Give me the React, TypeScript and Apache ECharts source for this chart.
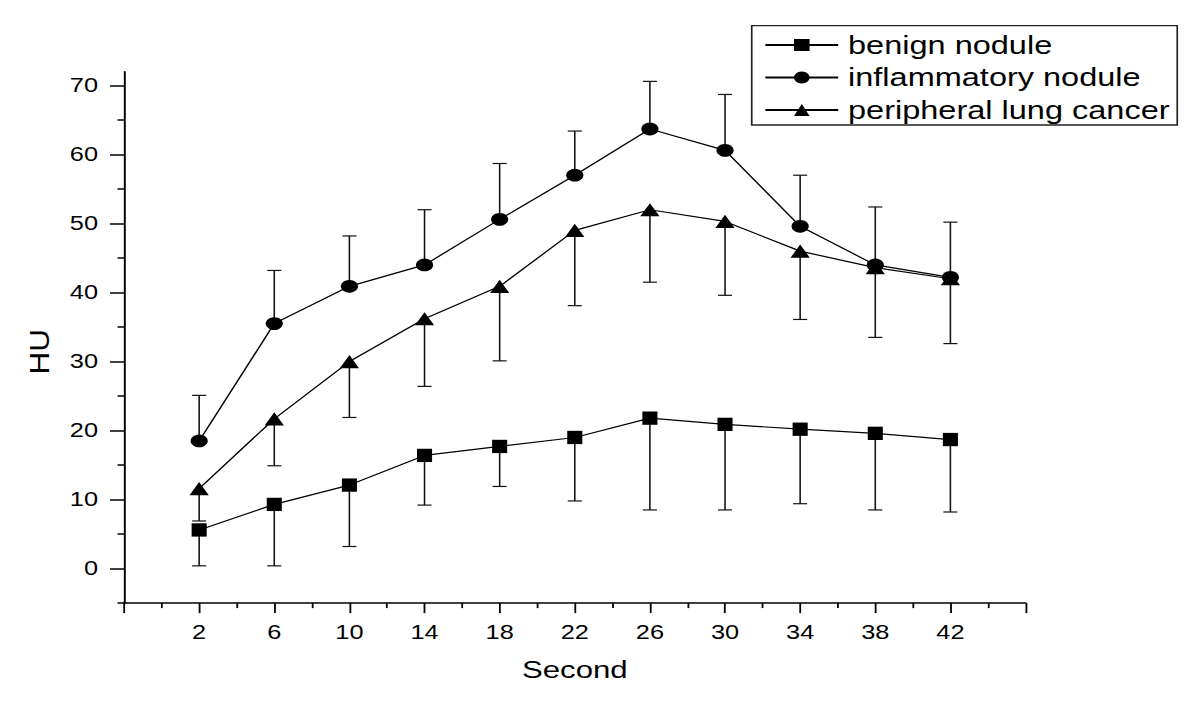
import React, { useEffect, useRef } from "react";
import * as echarts from "echarts";

// ---- data ----
const seconds = [2, 6, 10, 14, 18, 22, 26, 30, 34, 38, 42];
const seriesNames = ["benign nodule", "inflammatory nodule", "peripheral lung cancer"];

const benignMean = [5.6, 9.3, 12.1, 16.4, 17.7, 19.0, 21.8, 20.9, 20.2, 19.6, 18.7];
const benignLow = [0.4, 0.4, 3.2, 9.2, 11.9, 9.8, 8.5, 8.5, 9.4, 8.5, 8.2];

const inflamMean = [18.5, 35.5, 40.9, 44.0, 50.6, 57.0, 63.7, 60.6, 49.6, 44.0, 42.2];
const inflamHigh = [25.1, 43.2, 48.2, 52.0, 58.7, 63.4, 70.6, 68.7, 57.0, 52.4, 50.2];

const periphMean = [11.6, 21.7, 30.0, 36.2, 40.9, 49.0, 52.0, 50.3, 46.0, 43.6, 42.0];
const periphLow = [6.9, 14.9, 21.9, 26.4, 30.1, 38.1, 41.5, 39.6, 36.1, 33.5, 32.6];

const xMajorTicks = [-2, 2, 6, 10, 14, 18, 22, 26, 30, 34, 38, 42, 46];
const xLabelValues = [2, 6, 10, 14, 18, 22, 26, 30, 34, 38, 42];
const xMinorTicks = [0, 4, 8, 12, 16, 20, 24, 28, 32, 36, 40, 44];
const yMajorTicks = [0, 10, 20, 30, 40, 50, 60, 70];
const yMinorTicks = [-5, 5, 15, 25, 35, 45, 55, 65];

// ---- layout (the reference is stretched horizontally) ----
const W = 923;
const H = 715;
const SX = 1200 / W;
const FONT = '"Liberation Sans", Arial, Helvetica, sans-serif';
const INK = "#000";

function errorSeries(name: string, means: number[], ends: number[]) {
  return {
    type: "custom",
    name,
    xAxisIndex: 0,
    yAxisIndex: 0,
    silent: true,
    z: 1,
    encode: { x: 0, y: [1, 2] },
    data: seconds.map((s, i) => [s, means[i], ends[i]]),
    renderItem: (_params: any, api: any) => {
      const p0 = api.coord([api.value(0), api.value(1)]);
      const p1 = api.coord([api.value(0), api.value(2)]);
      const st = { stroke: "#111", lineWidth: 1.2 };
      return {
        type: "group",
        children: [
          { type: "line", shape: { x1: p0[0], y1: p0[1], x2: p1[0], y2: p1[1] }, style: st },
          { type: "line", shape: { x1: p1[0] - 5.4, y1: p1[1], x2: p1[0] + 5.4, y2: p1[1] }, style: st },
        ],
      };
    },
  };
}

function lineSeries(name: string, means: number[], symbol: string, size: number[]) {
  return {
    type: "line",
    name,
    xAxisIndex: 0,
    yAxisIndex: 0,
    z: 3,
    symbol,
    symbolSize: size,
    showAllSymbol: true,
    data: seconds.map((s, i) => [s, means[i]]),
    itemStyle: { color: INK, borderWidth: 0 },
    lineStyle: { color: INK, width: 1.2 },
  };
}

export default function App() {
  const ref = useRef<HTMLDivElement>(null);

  useEffect(() => {
    if (!ref.current) return;
    const chart = echarts.init(ref.current, null, { renderer: "svg", width: W, height: H });
    const axisLineStyle = { color: INK, width: 1.5 };
    const option: any = {
      animation: false,
      backgroundColor: "#fff",
      grid: { left: 95.4, right: W - 788.8, top: 71.7, bottom: 111.9, containLabel: false },
      legend: {
        orient: "vertical",
        left: 587.7,
        top: 32.5,
        padding: 0,
        itemWidth: 56,
        itemHeight: 15,
        itemGap: 7.5,
        data: seriesNames,
        textStyle: { fontFamily: FONT, fontSize: 25, lineHeight: 25, color: INK, padding: [0, 0, 0, 2.6] },
      },
      xAxis: [
        {
          type: "value",
          min: -2,
          max: 46,
          position: "bottom",
          axisLine: { show: true, onZero: false, lineStyle: axisLineStyle },
          axisTick: { show: true, customValues: xMajorTicks, length: 10, lineStyle: { color: INK, width: 1.4 } },
          axisLabel: { customValues: xLabelValues, fontFamily: FONT, fontSize: 19.5, color: INK, margin: 19 },
          splitLine: { show: false },
          name: "Second",
          nameLocation: "middle",
          nameGap: 55,
          nameTextStyle: { fontFamily: FONT, fontSize: 24, color: INK },
        },
        {
          type: "value",
          min: -2,
          max: 46,
          position: "bottom",
          axisLine: { show: false, onZero: false },
          axisTick: { show: true, customValues: xMinorTicks, length: 5, lineStyle: { color: INK, width: 1.4 } },
          axisLabel: { show: false },
          splitLine: { show: false },
        },
      ],
      yAxis: [
        {
          type: "value",
          min: -5,
          max: 72,
          position: "left",
          axisLine: { show: true, onZero: false, lineStyle: axisLineStyle },
          axisTick: { show: true, customValues: yMajorTicks, length: 10.8, lineStyle: { color: INK, width: 1.5 } },
          axisLabel: { customValues: yMajorTicks, fontFamily: FONT, fontSize: 19.5, color: INK, margin: 20 },
          splitLine: { show: false },
        },
        {
          type: "value",
          min: -5,
          max: 72,
          position: "left",
          axisLine: { show: false, onZero: false },
          axisTick: { show: true, customValues: yMinorTicks, length: 5, lineStyle: { color: INK, width: 1.5 } },
          axisLabel: { show: false },
          splitLine: { show: false },
        },
      ],
      graphic: [
        {
          type: "rect",
          shape: { x: 578.2, y: 25.7, width: 327.3, height: 99.3 },
          style: { fill: "none", stroke: "#222", lineWidth: 1.3 },
          silent: true,
        },
        {
          type: "text",
          x: 30,
          y: 351.7,
          rotation: Math.PI / 2,
          scaleX: 1.5,
          style: { text: "HU", fontFamily: FONT, fontSize: 21, fill: INK, align: "center", verticalAlign: "middle" },
          silent: true,
        },
      ],
      series: [
        errorSeries("benign SD", benignMean, benignLow),
        errorSeries("inflammatory SD", inflamMean, inflamHigh),
        errorSeries("peripheral SD", periphMean, periphLow),
        lineSeries(seriesNames[0], benignMean, "rect", [11.6, 13.3]),
        lineSeries(seriesNames[1], inflamMean, "circle", [13.2, 12.8]),
        lineSeries(seriesNames[2], periphMean, "triangle", [14.8, 13.2]),
      ],
    };
    chart.setOption(option);
    return () => chart.dispose();
  }, []);

  return (
    <div
      style={{
        position: "fixed",
        left: 0,
        top: 0,
        width: 1200,
        height: 715,
        overflow: "hidden",
        background: "#fff",
      }}
    >
      <div
        ref={ref}
        style={{
          position: "absolute",
          left: 0,
          top: 0,
          width: W,
          height: H,
          transform: `scaleX(${SX})`,
          transformOrigin: "0 0",
        }}
      />
    </div>
  );
}
